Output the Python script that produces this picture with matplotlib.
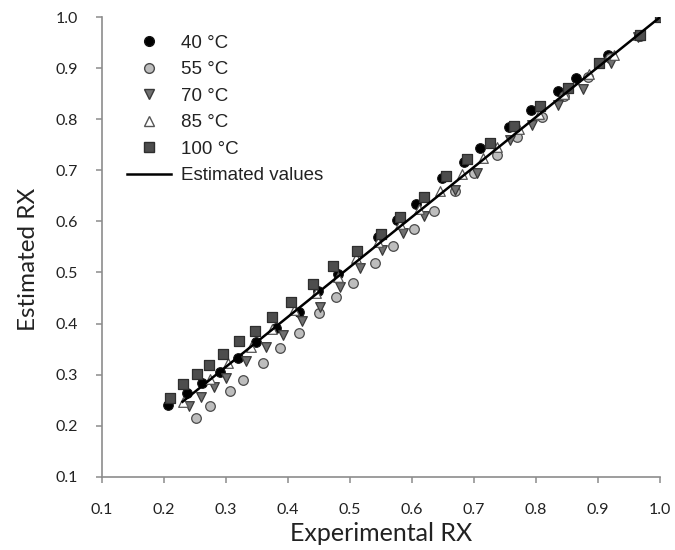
import matplotlib
matplotlib.use("Agg")
import matplotlib.pyplot as plt
from matplotlib.lines import Line2D

# Experimental vs estimated RX at each temperature
x40 = [0.207, 0.237, 0.262, 0.291, 0.320, 0.348, 0.380, 0.417, 0.449, 0.480, 0.545, 0.575,
       0.606, 0.649, 0.683, 0.710, 0.757, 0.791, 0.836, 0.864, 0.916, 0.966, 1.0]
y40 = [0.241, 0.265, 0.283, 0.306, 0.333, 0.363, 0.391, 0.423, 0.463, 0.497, 0.570, 0.603,
       0.635, 0.685, 0.717, 0.743, 0.785, 0.819, 0.856, 0.880, 0.926, 0.962, 1.0]

x55 = [0.251, 0.274, 0.306, 0.328, 0.359, 0.387, 0.417, 0.450, 0.477, 0.504, 0.540, 0.569,
       0.603, 0.635, 0.669, 0.700, 0.737, 0.770, 0.810, 0.845, 0.883, 0.919, 0.967, 1.0]
y55 = [0.216, 0.239, 0.268, 0.290, 0.322, 0.353, 0.381, 0.420, 0.452, 0.480, 0.518, 0.551,
       0.585, 0.620, 0.660, 0.695, 0.730, 0.765, 0.805, 0.845, 0.882, 0.919, 0.962, 1.0]

x70 = [0.241, 0.259, 0.280, 0.300, 0.333, 0.365, 0.392, 0.422, 0.452, 0.484, 0.516, 0.551,
       0.586, 0.620, 0.669, 0.705, 0.758, 0.793, 0.835, 0.875, 0.920, 0.965]
y70 = [0.238, 0.257, 0.275, 0.294, 0.327, 0.355, 0.378, 0.406, 0.433, 0.472, 0.508, 0.544,
       0.577, 0.610, 0.662, 0.695, 0.759, 0.789, 0.828, 0.860, 0.910, 0.960]

x85 = [0.231, 0.274, 0.304, 0.340, 0.375, 0.410, 0.445, 0.480, 0.510, 0.545, 0.580, 0.612,
       0.645, 0.680, 0.715, 0.737, 0.772, 0.805, 0.845, 0.885, 0.925, 0.965]
y85 = [0.247, 0.292, 0.322, 0.355, 0.390, 0.427, 0.460, 0.492, 0.528, 0.560, 0.595, 0.625,
       0.660, 0.693, 0.725, 0.745, 0.780, 0.810, 0.850, 0.888, 0.925, 0.965]

x100 = [0.209, 0.231, 0.253, 0.273, 0.296, 0.321, 0.346, 0.375, 0.405, 0.441, 0.473, 0.512,
        0.550, 0.580, 0.620, 0.654, 0.688, 0.725, 0.765, 0.806, 0.852, 0.902, 0.967, 1.0]
y100 = [0.254, 0.282, 0.302, 0.319, 0.341, 0.365, 0.386, 0.413, 0.443, 0.478, 0.512, 0.542,
        0.576, 0.608, 0.647, 0.688, 0.722, 0.753, 0.787, 0.826, 0.862, 0.911, 0.965, 1.0]

# model line
line_x = [0.23, 1.0]
line_y = [0.247, 1.0]

ticks = [0.1, 0.2, 0.3, 0.4, 0.5, 0.6, 0.7, 0.8, 0.9, 1.0]

fig = plt.figure(figsize=(6.75, 5.5), dpi=100)
ax = fig.add_axes([0.151, 0.133, 0.827, 0.836])

ms = 48
ax.scatter(x40, y40, s=ms, marker="o", facecolor="black", edgecolor="#111111", lw=0.8, zorder=3)
ax.scatter(x55, y55, s=ms, marker="o", facecolor="#bdbdbd", edgecolor="#4a4a4a", lw=0.9, zorder=3)
ax.scatter(x70, y70, s=ms, marker="v", facecolor="#707070", edgecolor="#3a3a3a", lw=0.9, zorder=3)
ax.scatter(x85, y85, s=ms, marker="^", facecolor="white", edgecolor="#555555", lw=0.9, zorder=3)
ax.scatter(x100, y100, s=ms, marker="s", facecolor="#4d4d4d", edgecolor="#2e2e2e", lw=0.9, zorder=3)
ax.plot(line_x, line_y, color="black", lw=1.8, zorder=4)

ax.set_xlim(0.1, 1.0)
ax.set_ylim(0.1, 1.0)
ax.set_xticks(ticks)
ax.set_yticks(ticks)
ax.set_xticklabels([f"{t:.1f}" for t in ticks])
ax.set_yticklabels([f"{t:.1f}" for t in ticks])

for side in ["top", "right"]:
    ax.spines[side].set_visible(False)
for side in ["left", "bottom"]:
    ax.spines[side].set_color("#8c8c8c")
    ax.spines[side].set_linewidth(1.2)
ax.tick_params(direction="out", length=4.5, width=1.1, color="#8c8c8c",
               labelsize=11.5, labelcolor="#222222")
ax.tick_params(axis="x", pad=14)
ax.tick_params(axis="y", pad=13)
for lab in ax.get_xticklabels() + ax.get_yticklabels():
    lab.set_family("Lato")

ax.set_xlabel("Experimental RX", fontsize=18, family="Lato", color="#222222")
ax.set_ylabel("Estimated RX", fontsize=17.5, family="Lato", color="#222222")
ax.xaxis.set_label_coords(0.5, -0.099)
ax.yaxis.set_label_coords(-0.112, 0.472)

handles = [
    Line2D([], [], ls="", marker="o", ms=7, mfc="black", mec="#111111"),
    Line2D([], [], ls="", marker="o", ms=7, mfc="#bdbdbd", mec="#4a4a4a"),
    Line2D([], [], ls="", marker="v", ms=7, mfc="#707070", mec="#3a3a3a"),
    Line2D([], [], ls="", marker="^", ms=7, mfc="white", mec="#555555"),
    Line2D([], [], ls="", marker="s", ms=7, mfc="#4d4d4d", mec="#2e2e2e"),
    Line2D([], [], color="black", lw=1.8),
]
labels = ["40 °C", "55 °C", "70 °C", "85 °C", "100 °C", "Estimated values"]
ax.legend(handles, labels, loc="upper left", bbox_to_anchor=(0.045, 0.962), frameon=False,
          prop={"family": "Liberation Sans", "size": 13.5}, labelspacing=0.5,
          handlelength=2.35, handletextpad=0.55, borderaxespad=0.0, borderpad=0.0,
          labelcolor="#222222")

fig.savefig("out.png", dpi=100)
